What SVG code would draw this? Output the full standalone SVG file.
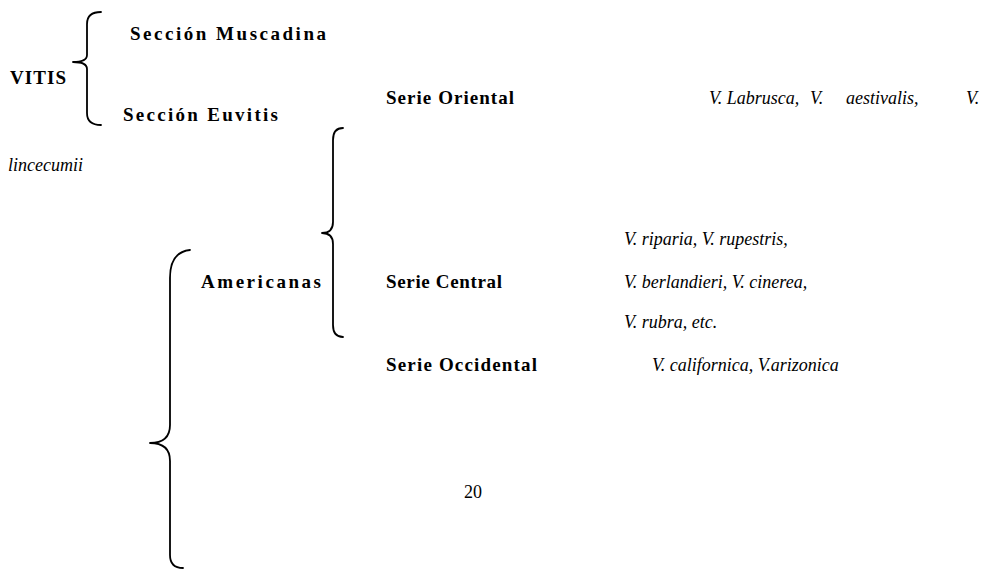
<svg xmlns="http://www.w3.org/2000/svg" width="994" height="570" viewBox="0 0 994 570">
<style>
  text { font-family: "Liberation Serif", "Times New Roman", serif; font-size: 18px; fill: #000; }
  .b { font-weight: bold; font-size: 19px; }
  .i { font-style: italic; }
  .brace { fill: none; stroke: #000; stroke-width: 1.8; stroke-linecap: round; stroke-linejoin: round; }
</style>
<rect width="994" height="570" fill="#fff"/>
<g id="connectors">
  <path class="brace" d="M101,12 Q87,12 87,24 L87,55 Q87,62 73,62 Q87,62 87,69 L87,113 Q87,125 101,125"/>
  <path class="brace" d="M343,128 Q333,128 333,140 L333,222 Q333,233 322,233 Q333,233 333,244 L333,325 Q333,337 343,337"/>
  <path class="brace" d="M190,250 Q170,252 170,278 L170,425 Q170,443 150,443 Q170,443 170,461 L170,555 Q170,568 183,568"/>
</g>
<g id="vitis"><text class="b" x="10" y="84" textLength="56" lengthAdjust="spacing">VITIS</text></g>
<g id="muscadina"><text class="b" x="130" y="40" textLength="196" lengthAdjust="spacing">Sección Muscadina</text></g>
<g id="euvitis"><text class="b" x="123" y="121" textLength="155" lengthAdjust="spacing">Sección Euvitis</text></g>
<g id="americanas"><text class="b" x="201" y="288" textLength="120" lengthAdjust="spacing">Americanas</text></g>
<g id="serie-oriental">
  <text class="b" x="386" y="104" textLength="128" lengthAdjust="spacing">Serie Oriental</text>
  <text class="i" x="709" y="104">V. Labrusca,</text>
  <text class="i" x="810" y="104">V.</text>
  <text class="i" x="846" y="104">aestivalis,</text>
  <text class="i" x="966" y="104">V.</text>
  <text class="i" x="8" y="171">lincecumii</text>
</g>
<g id="serie-central">
  <text class="b" x="386" y="288" textLength="116" lengthAdjust="spacing">Serie Central</text>
  <text class="i" x="624" y="245">V. riparia, V. rupestris,</text>
  <text class="i" x="624" y="288">V. berlandieri, V. cinerea,</text>
  <text class="i" x="624" y="328">V. rubra, etc.</text>
</g>
<g id="serie-occidental">
  <text class="b" x="386" y="371" textLength="151" lengthAdjust="spacing">Serie Occidental</text>
  <text class="i" x="652" y="371">V. californica, V.arizonica</text>
</g>
<g id="page-number"><text x="464" y="498">20</text></g>
</svg>
